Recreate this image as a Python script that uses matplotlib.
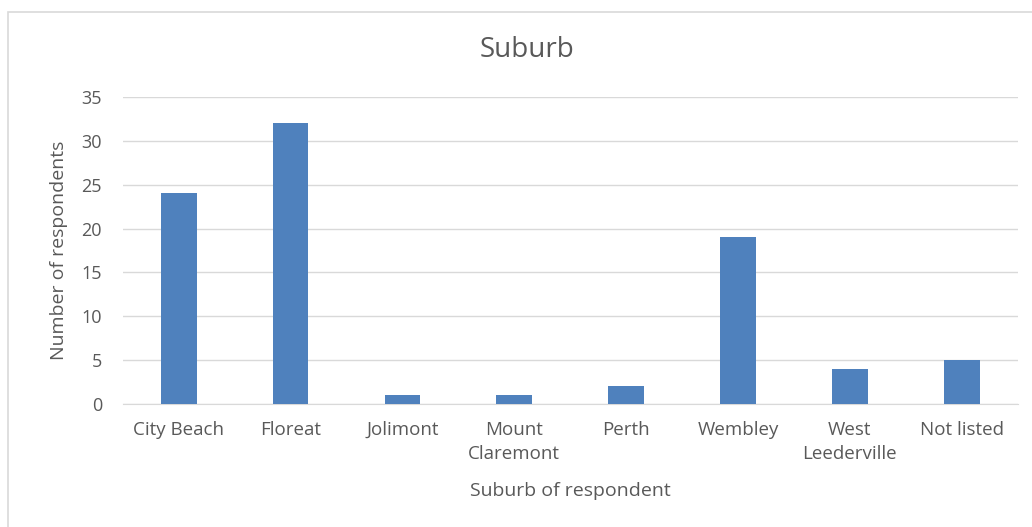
import matplotlib.pyplot as plt
from matplotlib.patches import Rectangle

suburbs = ['City Beach', 'Floreat', 'Jolimont', 'Mount\nClaremont', 'Perth',
           'Wembley', 'West\nLeederville', 'Not listed']
respondents = [24, 32, 1, 1, 2, 19, 4, 5]

plt.rcParams['font.family'] = ['Open Sans', 'DejaVu Sans']
txt = '#595959'

fig = plt.figure(figsize=(10.32, 5.27), dpi=100)
ax = fig.add_axes([0.119, 0.2334, 0.867, 0.5825])

# chart frame (left and top edges visible)
fig.patches.append(Rectangle((8 / 1032, -0.1), 1.2, 1 - 12 / 527 + 0.1,
                             transform=fig.transFigure, fill=False,
                             edgecolor='#D9D9D9', linewidth=1.2))

x = range(len(suburbs))
ax.bar(x, respondents, width=0.32, color='#4F81BD', zorder=3)

ax.set_xlim(-0.5, len(suburbs) - 0.5)
ax.set_ylim(0, 35)
ax.set_yticks(range(0, 36, 5))
ax.set_xticks(list(x))
ax.set_xticklabels(suburbs, color=txt, fontsize=13.5, linespacing=1.45)
ax.tick_params(axis='y', colors=txt, labelsize=13, length=0, pad=15)
ax.tick_params(axis='x', length=0, pad=12)
ax.grid(axis='y', color='#D9D9D9', linewidth=1, zorder=0)
for s in ['top', 'right', 'left']:
    ax.spines[s].set_visible(False)
ax.spines['bottom'].set_color('#D9D9D9')

fig.text(527 / 1032, 1 - 50 / 527, 'Suburb', color=txt, fontsize=20,
         ha='center', va='center')
ax.set_ylabel('Number of respondents', color=txt, fontsize=14, labelpad=10)
ax.set_xlabel('Suburb of respondent', color=txt, fontsize=14, labelpad=14)

plt.savefig('out.png')
